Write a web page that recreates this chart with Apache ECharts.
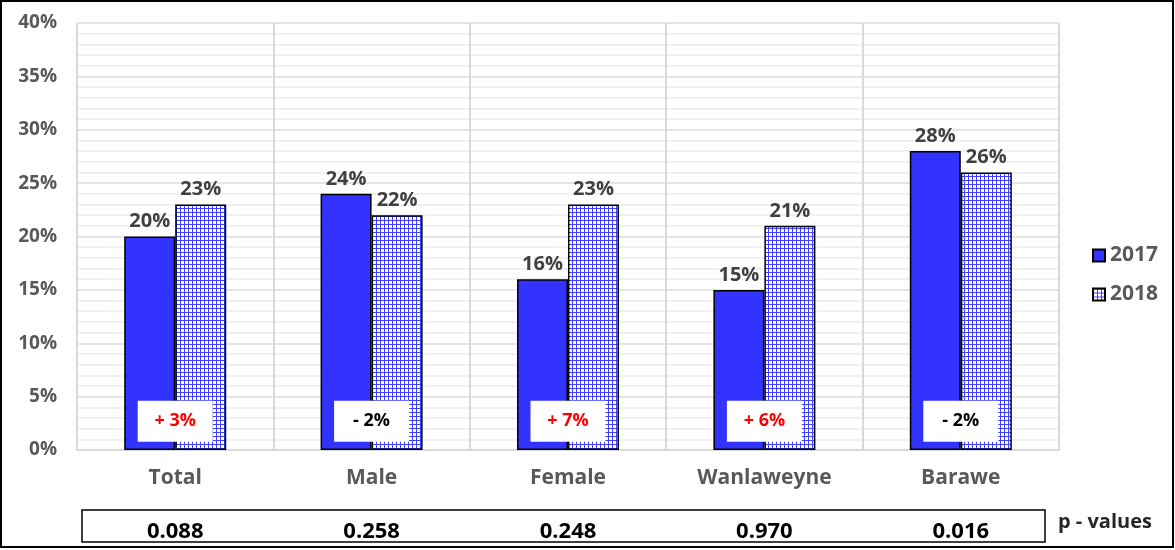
<!DOCTYPE html>
<html>
<head>
<meta charset="utf-8">
<script src="https://cdn.jsdelivr.net/npm/echarts@6/dist/echarts.min.js"></script>
<style>
  html, body { margin: 0; padding: 0; background: #fff; }
  #chart { width: 1175px; height: 550px; }
</style>
</head>
<body>
<div id="chart"></div>
<script>
var categories = ['Total', 'Male', 'Female', 'Wanlaweyne', 'Barawe']
var values2017 = [20, 24, 16, 15, 28]
var values2018 = [23, 22, 23, 21, 26]
var changes = ['+ 3%', '- 2%', '+ 7%', '+ 6%', '- 2%']
var pValues = ['0.088', '0.258', '0.248', '0.970', '0.016']
var yTicks = [0, 5, 10, 15, 20, 25, 30, 35, 40]

var FONT = '"Open Sans", Lato, sans-serif'

// small blue grid tile for the 2018 bars
function gridPattern() {
  var c = document.createElement('canvas')
  c.width = 4
  c.height = 4
  var ctx = c.getContext('2d')
  ctx.fillStyle = '#ffffff'
  ctx.fillRect(0, 0, 4, 4)
  ctx.fillStyle = '#4040ff'
  ctx.fillRect(0, 0, 4, 1)
  ctx.fillRect(0, 0, 1, 4)
  return c
}

var chart = echarts.init(document.getElementById('chart'))

var valueLabel = {
  show: true,
  position: 'top',
  distance: 5,
  formatter: '{c}%',
  color: '#404040',
  fontFamily: FONT,
  fontWeight: 'bold',
  fontSize: 20
}

var option = {
  animation: false,
  grid: {
    left: 77,
    right: 116,
    top: 23,
    bottom: 100
  },
  legend: {
    orient: 'vertical',
    left: 1087,
    top: 240,
    itemWidth: 12,
    itemHeight: 12,
    itemGap: 18,
    icon: 'rect',
    data: ['2017', '2018'],
    textStyle: {
      color: '#595959',
      fontFamily: FONT,
      fontWeight: 'bold',
      fontSize: 21,
      padding: [0, 0, 0, 0]
    }
  },
  xAxis: [
    {
      type: 'category',
      data: categories,
      axisLine: {lineStyle: {color: '#d9d9d9', width: 2}},
      axisTick: {show: false},
      splitLine: {show: true, lineStyle: {color: '#d9d9d9', width: 2}},
      axisLabel: {
        margin: 18,
        color: '#595959',
        fontFamily: FONT,
        fontWeight: 'bold',
        fontSize: 21
      }
    },
    {
      type: 'category',
      data: pValues,
      position: 'bottom',
      offset: 65,
      axisLine: {show: false},
      axisTick: {show: false},
      splitLine: {show: false},
      axisLabel: {
        margin: 6,
        color: '#000',
        fontFamily: FONT,
        fontWeight: 'bold',
        fontSize: 22
      }
    }
  ],
  yAxis: {
    type: 'value',
    min: yTicks[0],
    max: yTicks[yTicks.length - 1],
    interval: 5,
    axisLine: {show: false},
    axisTick: {show: false},
    axisLabel: {
      margin: 20,
      formatter: '{value}%',
      color: '#595959',
      fontFamily: FONT,
      fontWeight: 'bold',
      fontSize: 19
    },
    splitLine: {lineStyle: {color: '#dcdcdc', width: 1.5}},
    minorTick: {show: false, splitNumber: 5},
    minorSplitLine: {show: true, lineStyle: {color: '#ececec', width: 1.5}}
  },
  series: [
    {
      name: '2017',
      type: 'bar',
      data: values2017,
      barWidth: 51,
      barGap: '0%',
      itemStyle: {color: '#3333ff', borderColor: '#000', borderWidth: 1.5},
      label: valueLabel
    },
    {
      name: '2018',
      type: 'bar',
      data: values2018,
      barWidth: 51,
      barGap: '0%',
      itemStyle: {
        color: {image: gridPattern(), repeat: 'repeat'},
        borderColor: '#000',
        borderWidth: 1.5
      },
      label: valueLabel
    },
    {
      name: 'change',
      type: 'scatter',
      z: 5,
      symbol: 'rect',
      symbolSize: [75, 41],
      itemStyle: {color: '#fff', opacity: 1},
      data: changes.map(function (t, i) {
        return {
          value: [categories[i], 2.7],
          text: t,
          label: {color: t.charAt(0) === '+' ? '#ff0000' : '#000'}
        }
      }),
      label: {
        show: true,
        position: 'inside',
        formatter: function (p) { return p.data.text },
        fontFamily: FONT,
        fontWeight: 'bold',
        fontSize: 18
      },
      emphasis: {disabled: true}
    }
  ],
  graphic: [
    {
      type: 'rect',
      shape: {x: 1, y: 1, width: 1172, height: 546},
      style: {fill: 'none', stroke: '#000', lineWidth: 2},
      silent: true
    },
    {
      type: 'rect',
      shape: {x: 82, y: 510, width: 963, height: 32},
      style: {fill: 'none', stroke: '#000', lineWidth: 1.5},
      silent: true
    },
    {
      type: 'text',
      left: 1058,
      top: 512,
      style: {
        text: 'p - values',
        fill: '#262626',
        font: 'bold 20px ' + FONT
      },
      silent: true
    }
  ]
}

chart.setOption(option)
</script>
</body>
</html>
